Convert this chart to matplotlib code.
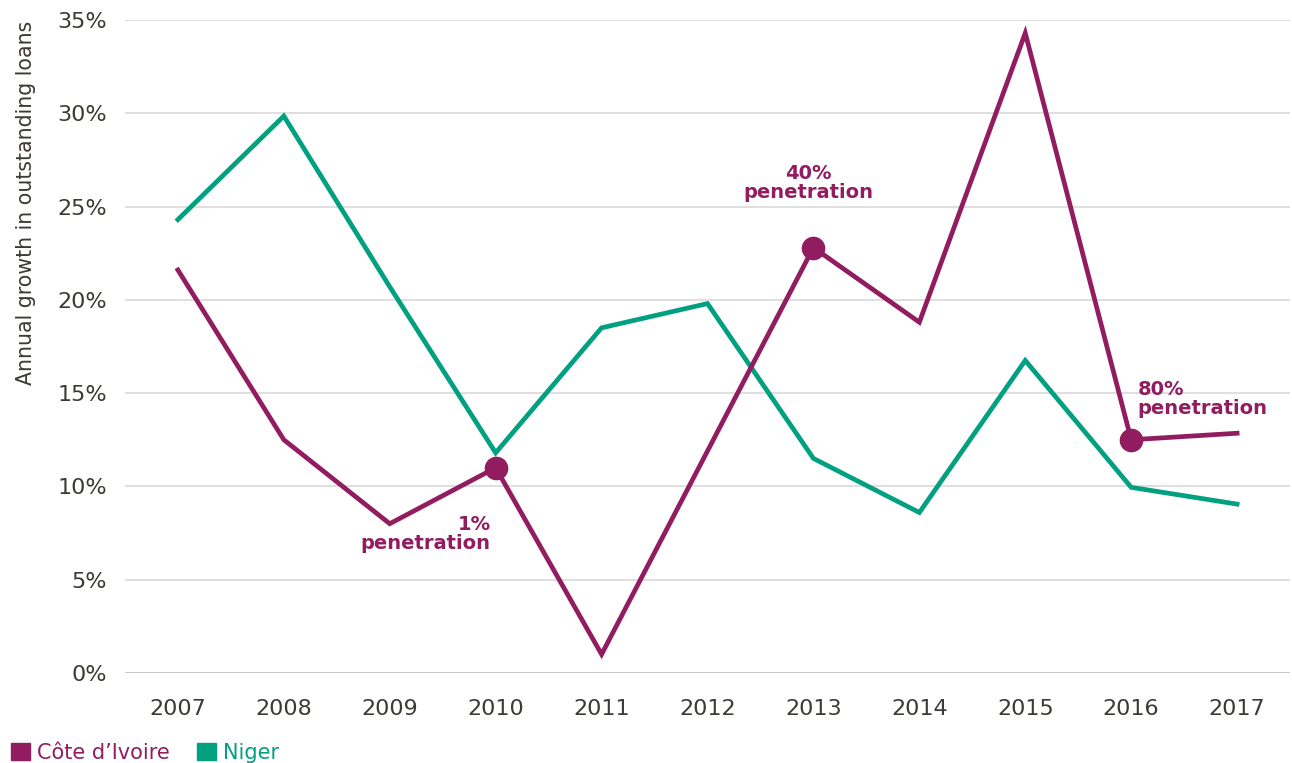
import numpy as np
import matplotlib.pyplot as plt
from matplotlib.patches import Patch

plt.rcParams['font.family'] = ['DejaVu Sans']

years = ['2007', '2008', '2009', '2010', '2011', '2012', '2013', '2014', '2015', '2016', '2017']
civ = [21.6, 12.5, 8.0, 11.0, 1.0, 11.9, 22.8, 18.8, 34.3, 12.5, 12.85]
niger = [24.3, 29.85, 20.7, 11.8, 18.5, 19.8, 11.5, 8.6, 16.75, 9.95, 9.05]

# penetration milestones (index into years, label)
milestones = [(3, '1%\npenetration'), (6, '40%\npenetration'), (9, '80%\npenetration')]

purple = '#921c60'
teal = '#00a080'
txt = '#3d3935'

fig = plt.figure(figsize=(12.92, 7.63), dpi=100)
ax = fig.add_axes([0.0967, 0.118, 0.9018, 0.8558])

x = np.arange(len(years))
ax.plot(x, niger, color=teal, lw=3.4, solid_joinstyle='miter', zorder=3)
ax.plot(x, civ, color=purple, lw=3.4, solid_joinstyle='miter', zorder=4)

idx = [m[0] for m in milestones]
ax.plot(x[idx], np.array(civ)[idx], 'o', color=purple, ms=16, zorder=5)

# annotation placement
akw = dict(textcoords='offset points', color=purple, fontsize=14, fontweight='bold', linespacing=1.0)
ax.annotate(milestones[0][1], (idx[0], civ[idx[0]]), xytext=(-3.5, -34), ha='right', va='top', **akw)
ax.annotate(milestones[1][1], (idx[1], civ[idx[1]]), xytext=(-3.5, 33), ha='center', va='bottom', **akw)
ax.annotate(milestones[2][1], (idx[2], civ[idx[2]]), xytext=(4.5, 16), ha='left', va='bottom', **akw)

ax.set_xlim(-0.5, len(years) - 0.5)
ax.set_ylim(0, 35)
ax.set_xticks(x)
ax.set_xticklabels(years)
ax.set_yticks(np.arange(0, 36, 5))
ax.set_yticklabels([f'{v}%' for v in range(0, 36, 5)])
ax.tick_params(length=0, labelsize=16, colors=txt)
ax.tick_params(axis='x', pad=19)
ax.tick_params(axis='y', pad=13)
ax.grid(axis='y', color='#d6d6d6', lw=1.1)
ax.axhline(0, color='#c8c8c8', lw=1.4, zorder=1)
ax.set_axisbelow(True)
for s in ax.spines.values():
    s.set_visible(False)

fig.text(0.020, 0.734, 'Annual growth in outstanding loans', rotation=90, ha='center', va='center',
         fontsize=14.8, color=txt)

handles = [Patch(color=purple, label="Côte d\u2019Ivoire"), Patch(color=teal, label='Niger')]
fig.legend(handles=handles, loc='lower left', bbox_to_anchor=(-0.001, -0.016), ncol=2, frameon=False,
           fontsize=15, handlelength=0.9, handleheight=0.9, handletextpad=0.35, columnspacing=1.3,
           labelcolor=[purple, teal], borderaxespad=0.2)

fig.savefig('out.png', dpi=100)
